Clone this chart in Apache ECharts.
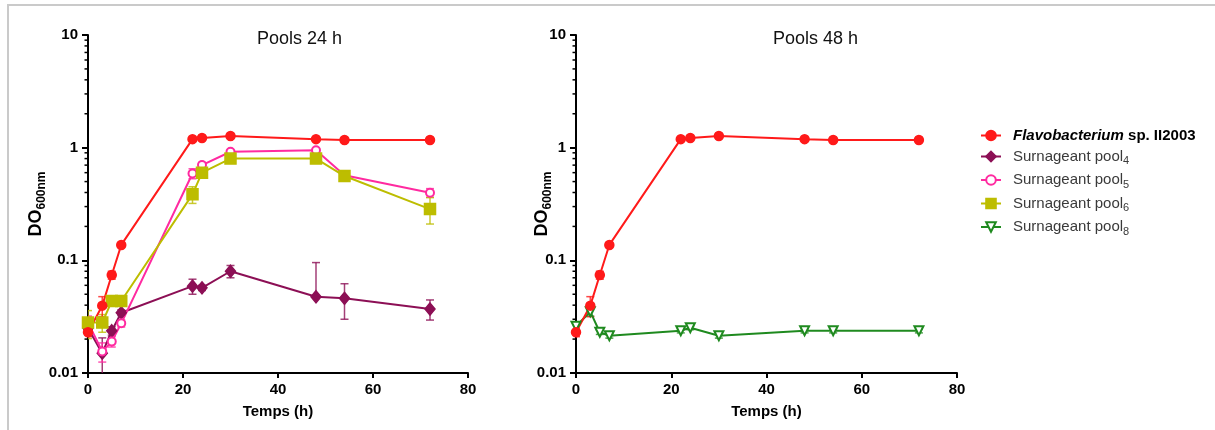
<!DOCTYPE html>
<html><head><meta charset="utf-8">
<script src="https://cdn.jsdelivr.net/npm/echarts@6/dist/echarts.min.js"></script>
<style>
html,body{margin:0;padding:0;background:#fff;overflow:hidden;}
#chart{position:absolute;left:0;top:0;width:1215px;height:430px;}
#frame{position:absolute;left:7px;top:4px;width:1215px;height:430px;border-top:2px solid #cacaca;border-left:2px solid #cacaca;pointer-events:none;}
</style></head><body>
<div id="chart"></div><div id="frame"></div>
<script>
// ---------- data ----------
const times = [0, 3, 5, 7, 22, 24, 30, 48, 54, 72];
const flavoMean  = [0.023, 0.0396, 0.074, 0.137, 1.19, 1.22, 1.27, 1.19, 1.17, 1.17];
const flavoSd    = [0.002, 0.008, 0.006, 0.006, 0.04, 0.04, 0.04, 0.04, 0.04, 0.04];
const pool4Mean  = [0.025, 0.015, 0.0237, 0.0343, 0.059, 0.057, 0.080, 0.0475, 0.046, 0.037];
const pool4Sd    = [0.003, 0.0055, 0.002, 0.002, 0.009, 0.003, 0.010, 0.048, 0.016, 0.0075];
const pool5Mean  = [0.028, 0.0155, 0.019, 0.0276, 0.59, 0.70, 0.92, 0.95, 0.57, 0.398];
const pool5Sd    = [0.004, 0.003, 0.002, 0.002, 0.06, 0.04, 0.03, 0.03, 0.03, 0.035];
const pool6Mean  = [0.028, 0.028, 0.0435, 0.0435, 0.385, 0.60, 0.80, 0.80, 0.56, 0.285];
const pool6Sd    = [0.0078, 0.005, 0.002, 0.002, 0.065, 0.04, 0.04, 0.04, 0.03, 0.075];
const pool8Mean  = [0.026, 0.035, 0.023, 0.0214, 0.0237, 0.0252, 0.0214, 0.0237, 0.0237, 0.0237];
const pool8Sd    = [0.002, 0.003, 0.001, 0.001, 0.001, 0.001, 0.001, 0.001, 0.001, 0.001];

const xTicks = [0, 20, 40, 60, 80];
const yTickLabels = ['0.01', '0.1', '1', '10'];
const yMinorTicks = [0.02,0.03,0.04,0.05,0.06,0.07,0.08,0.09,0.2,0.3,0.4,0.5,0.6,0.7,0.8,0.9,2,3,4,5,6,7,8,9];
const panelTitles = ['Pools 24 h', 'Pools 48 h'];
const xTitle = 'Temps (h)';
const seriesNames = ['Flavobacterium sp. II2003', 'Surnageant pool4', 'Surnageant pool5', 'Surnageant pool6', 'Surnageant pool8'];
const legendLabels = {
  'Flavobacterium sp. II2003': '{it|Flavobacterium}{b| sp. II2003}',
  'Surnageant pool4': '{n|Surnageant pool}{s|4}',
  'Surnageant pool5': '{n|Surnageant pool}{s|5}',
  'Surnageant pool6': '{n|Surnageant pool}{s|6}',
  'Surnageant pool8': '{n|Surnageant pool}{s|8}'
};

// ---------- helpers ----------
const FONT = 'Liberation Sans, Arial, sans-serif';
const colors = { flavo: '#ff1a1a', p4: '#8c0f55', p5: '#ff2aa0', p6: '#bdbd00', p8: '#1f8a1f' };

function pts(mean) { return times.map((t, i) => [t, mean[i]]); }
function errData(mean, sd) {
  return times.map((t, i) => {
    const lo = mean[i] - sd[i];
    return [t, lo > 0 ? lo : mean[i], mean[i] + sd[i], lo > 0 ? 1 : 0];
  });
}
function errSeries(idx, mean, sd, color) {
  return {
    type: 'custom', xAxisIndex: idx, yAxisIndex: idx, silent: true, clip: true, z: 1,
    data: errData(mean, sd),
    renderItem: function (params, api) {
      const x = api.value(0);
      const top = api.coord([x, api.value(2)]);
      const bot = api.coord([x, api.value(1)]);
      const hw = 4;
      const st = { stroke: color, lineWidth: 1.5, opacity: 0.8 };
      const ch = [
        { type: 'line', shape: { x1: top[0], y1: top[1], x2: bot[0], y2: bot[1] }, style: st },
        { type: 'line', shape: { x1: top[0] - hw, y1: top[1], x2: top[0] + hw, y2: top[1] }, style: st }
      ];
      if (api.value(3) === 1) ch.push({ type: 'line', shape: { x1: bot[0] - hw, y1: bot[1], x2: bot[0] + hw, y2: bot[1] }, style: st });
      return { type: 'group', children: ch };
    }
  };
}
function minorTickSeries(idx) {
  return {
    type: 'custom', xAxisIndex: idx, yAxisIndex: idx, silent: true, clip: false, z: 3,
    data: yMinorTicks.map(v => [0, v]),
    renderItem: function (params, api) {
      const p = api.coord([0, api.value(1)]);
      return { type: 'line', shape: { x1: p[0] - 3.5, y1: p[1], x2: p[0], y2: p[1] }, style: { stroke: '#000', lineWidth: 1.5 } };
    }
  };
}
function lineSeries(idx, name, mean, color, symbol, size, extra) {
  return Object.assign({
    type: 'line', name: name, xAxisIndex: idx, yAxisIndex: idx, z: 5,
    data: pts(mean), symbol: symbol, symbolSize: size, showSymbol: true,
    lineStyle: { color: color, width: 2 },
    itemStyle: { color: color, borderColor: color, borderWidth: 1.5 },
    emphasis: { disabled: true }, animation: false
  }, extra || {});
}
function xAxisCfg(idx) {
  return {
    type: 'value', gridIndex: idx, min: 0, max: 80, interval: 20,
    axisLine: { show: true, onZero: false, lineStyle: { color: '#000', width: 2 } },
    axisTick: { show: true, length: 5, lineStyle: { color: '#000', width: 2 }, customValues: xTicks },
    axisLabel: { color: '#000', fontSize: 15, fontWeight: 'bold', margin: 9, fontFamily: FONT, customValues: xTicks },
    splitLine: { show: false },
    name: xTitle, nameLocation: 'middle', nameGap: 31,
    nameTextStyle: { color: '#000', fontSize: 15, fontWeight: 'bold', fontFamily: FONT }
  };
}
function yAxisCfg(idx, gap) {
  return {
    type: 'log', logBase: 10, gridIndex: idx, min: 0.01, max: 10,
    axisLine: { show: true, onZero: false, lineStyle: { color: '#000', width: 2 } },
    axisTick: { show: true, length: 6, lineStyle: { color: '#000', width: 2 } },
    axisLabel: {
      color: '#000', fontSize: 15, fontWeight: 'bold', margin: 10, fontFamily: FONT,
      formatter: v => yTickLabels[Math.round(Math.log10(v)) + 2]
    },
    splitLine: { show: false },
    name: '{m|DO}{s|600nm}', nameLocation: 'middle', nameGap: gap, nameRotate: 90,
    nameMoveOverlap: false,
    nameTextStyle: {
      rich: {
        m: { fontSize: 18, fontWeight: 'bold', color: '#000', lineHeight: 24, fontFamily: FONT },
        s: { fontSize: 12, fontWeight: 'bold', color: '#000', lineHeight: 12, verticalAlign: 'bottom', fontFamily: FONT }
      }
    }
  };
}

const chart = echarts.init(document.getElementById('chart'), null, { renderer: 'canvas' });
chart.setOption({
  animation: false,
  textStyle: { fontFamily: FONT },
  title: [
    { text: panelTitles[0], left: 257, top: 30, padding: 0, textStyle: { fontSize: 18, fontWeight: 'normal', color: '#111', fontFamily: FONT } },
    { text: panelTitles[1], left: 773, top: 30, padding: 0, textStyle: { fontSize: 18, fontWeight: 'normal', color: '#111', fontFamily: FONT } }
  ],
  grid: [
    { left: 88, top: 35, width: 380, height: 338 },
    { left: 576, top: 35, width: 381, height: 338 }
  ],
  xAxis: [xAxisCfg(0), xAxisCfg(1)],
  yAxis: [yAxisCfg(0, 40), yAxisCfg(1, 22)],
  legend: {
    data: seriesNames, orient: 'vertical', left: 980, top: 128, padding: 0,
    itemWidth: 20, itemHeight: 12, itemGap: 6,
    formatter: n => legendLabels[n],
    textStyle: {
      padding: [0, 0, 0, 7],
      rich: {
        it: { fontStyle: 'italic', fontWeight: 'bold', fontSize: 15, color: '#000', lineHeight: 20, fontFamily: FONT },
        b: { fontWeight: 'bold', fontSize: 15, color: '#000', lineHeight: 20, fontFamily: FONT },
        n: { fontSize: 15, color: '#3a3a3a', lineHeight: 20, fontFamily: FONT },
        s: { fontSize: 11, color: '#3a3a3a', lineHeight: 11, verticalAlign: 'bottom', fontFamily: FONT }
      }
    }
  },
  series: [
    minorTickSeries(0), minorTickSeries(1),
    errSeries(0, pool4Mean, pool4Sd, colors.p4),
    errSeries(0, pool5Mean, pool5Sd, colors.p5),
    errSeries(0, pool6Mean, pool6Sd, colors.p6),
    errSeries(0, flavoMean, flavoSd, colors.flavo),
    errSeries(1, pool8Mean, pool8Sd, colors.p8),
    errSeries(1, flavoMean, flavoSd, colors.flavo),
    lineSeries(0, seriesNames[1], pool4Mean, colors.p4, 'diamond', [10, 12]),
    lineSeries(0, seriesNames[2], pool5Mean, colors.p5, 'emptyCircle', 8),
    lineSeries(0, seriesNames[3], pool6Mean, colors.p6, 'rect', 11),
    lineSeries(0, seriesNames[0], flavoMean, colors.flavo, 'circle', 9),
    lineSeries(1, seriesNames[4], pool8Mean, colors.p8, 'emptyTriangle', 9, { symbolRotate: 180 }),
    lineSeries(1, seriesNames[0], flavoMean, colors.flavo, 'circle', 9)
  ]
});
</script>
</body></html>
